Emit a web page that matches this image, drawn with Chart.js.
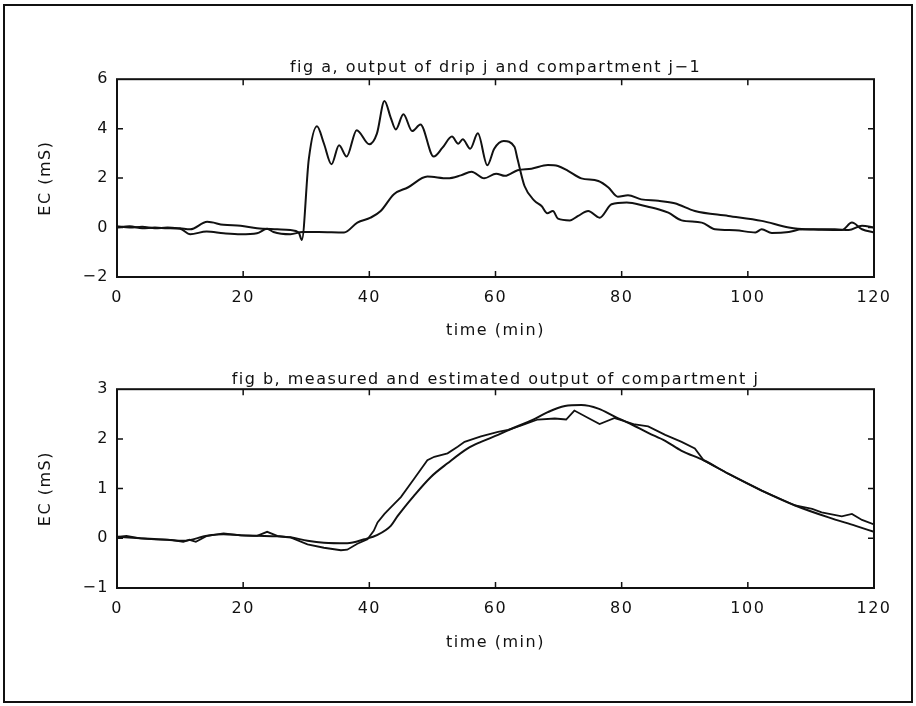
<!DOCTYPE html>
<html>
<head>
<meta charset="utf-8">
<script src="https://cdn.jsdelivr.net/npm/chart.js@4.4.1/dist/chart.umd.min.js"></script>
<style>
  html, body { margin: 0; padding: 0; background: #fff; }
  body { width: 916px; height: 706px; position: relative; overflow: hidden; }
  #frame { position: absolute; left: 3px; top: 4px; width: 906px; height: 695px; border: 2px solid #111; }
  #c1 { position: absolute; left: 0; top: 0; }
  #c2 { position: absolute; left: 0; top: 340px; }
</style>
</head>
<body>
<div id="frame"></div>
<canvas id="c1" width="916" height="345"></canvas>
<canvas id="c2" width="916" height="320"></canvas>
<script>
// ---- fig a: output of drip j and compartment j-1 ----
const dripTime = [0, 2, 4, 6, 8, 10, 11.6, 14.3, 16.9, 19.6, 22.2, 25.4, 27.5, 28.8, 29.3, 30.4, 31.7, 32.8, 34.0, 35.2, 36.4, 38.0, 40.0, 41.2, 42.4, 43.4, 44.2, 45.4, 46.8, 48.1, 50.2, 51.6, 53.1, 54.1, 54.8, 56.0, 57.2, 58.7, 59.8, 61.3, 63.0, 63.5, 64.6, 66.2, 67.3, 68.2, 69.1, 69.9, 71.8, 73.1, 74.7, 76.5, 78.4, 80.8, 83.7, 85.8, 87.4, 89.5, 92.7, 94.8, 98, 101.2, 102.2, 103.8, 106.5, 108.6, 111.7, 114.9, 116.5, 118.1, 120];
const dripEC = [0.05, 0.0, 0.03, -0.03, 0.0, -0.03, -0.07, 0.23, 0.11, 0.07, -0.03, -0.07, -0.1, -0.2, -0.5, 2.76, 4.1, 3.4, 2.56, 3.33, 2.87, 3.94, 3.37, 3.8, 5.12, 4.44, 3.97, 4.58, 3.9, 4.17, 2.87, 3.23, 3.68, 3.39, 3.57, 3.19, 3.81, 2.52, 3.19, 3.5, 3.27, 2.76, 1.68, 1.08, 0.87, 0.58, 0.67, 0.36, 0.29, 0.47, 0.67, 0.4, 0.94, 1.01, 0.87, 0.74, 0.6, 0.29, 0.2, -0.07, -0.11, -0.2, -0.07, -0.22, -0.18, -0.07, -0.09, -0.1, 0.2, -0.07, -0.2];

const prevTime = [0, 2, 4, 6, 8, 10, 11.6, 14.2, 16.9, 19.6, 22.2, 23.8, 24.8, 27.5, 29.4, 32, 36, 38.1, 40.2, 41.8, 43.9, 46.1, 49.2, 52.4, 54.5, 56.2, 58.2, 60.1, 61.5, 63.5, 65.7, 68.3, 69.9, 71.5, 73.6, 76.3, 77.9, 79.4, 81.0, 83.1, 85.8, 88.4, 91.6, 96.9, 102.2, 106.5, 109.1, 113.8, 116, 118.1, 120];
const prevEC = [0.0, 0.05, -0.03, 0.0, -0.03, -0.05, -0.27, -0.16, -0.23, -0.27, -0.23, -0.05, -0.18, -0.27, -0.18, -0.18, -0.2, 0.2, 0.4, 0.67, 1.35, 1.62, 2.06, 1.99, 2.11, 2.26, 1.99, 2.18, 2.09, 2.32, 2.38, 2.53, 2.49, 2.29, 1.99, 1.88, 1.62, 1.25, 1.31, 1.14, 1.08, 0.98, 0.67, 0.47, 0.27, 0.0, -0.07, -0.07, -0.1, 0.07, 0.0];

// ---- fig b: measured and estimated output of compartment j ----
const measTime = [0, 1.5, 3.7, 6, 8.5, 10.5, 11.5, 12.5, 14.3, 16.9, 19.6, 22.2, 23.8, 25.4, 27.5, 30.2, 32.8, 35.5, 36.5, 38.1, 39.7, 40.7, 41.3, 42.4, 43.4, 45.0, 47.1, 49.2, 50.3, 52.4, 54.0, 55.1, 57.7, 60.4, 62.0, 64.1, 66.7, 69.4, 71.2, 72.5, 74.7, 76.5, 78.9, 82.1, 84.2, 86.9, 89.5, 91.6, 93.0, 96.9, 102.2, 107.5, 110.2, 111.7, 114.9, 116.5, 118.1, 120];
const measEC = [0.03, 0.05, 0.0, -0.02, -0.03, -0.07, -0.03, -0.07, 0.05, 0.1, 0.06, 0.05, 0.13, 0.05, 0.02, -0.12, -0.19, -0.24, -0.23, -0.11, -0.02, 0.15, 0.32, 0.49, 0.62, 0.83, 1.2, 1.57, 1.64, 1.71, 1.84, 1.94, 2.05, 2.14, 2.18, 2.27, 2.39, 2.41, 2.39, 2.57, 2.42, 2.3, 2.42, 2.29, 2.25, 2.08, 1.94, 1.81, 1.57, 1.3, 0.96, 0.66, 0.59, 0.52, 0.44, 0.49, 0.37, 0.28];

const estTime = [0, 3.7, 8, 10.5, 14.3, 16.9, 19.6, 22.2, 25.4, 27.5, 30.2, 32.8, 36.5, 39.2, 41.3, 43.4, 44.5, 47.1, 49.8, 52.4, 55.6, 57.7, 60.4, 63.0, 65.7, 68.3, 71.0, 73.6, 76.3, 78.9, 81.6, 84.2, 86.9, 89.5, 93.0, 96.9, 102.2, 107.5, 112.8, 117.1, 120];
const estEC = [0.03, 0.0, -0.03, -0.05, 0.05, 0.08, 0.06, 0.05, 0.04, 0.02, -0.05, -0.09, -0.1, -0.02, 0.07, 0.25, 0.45, 0.86, 1.24, 1.51, 1.81, 1.94, 2.08, 2.23, 2.37, 2.54, 2.66, 2.68, 2.61, 2.45, 2.29, 2.12, 1.96, 1.76, 1.57, 1.3, 0.96, 0.66, 0.42, 0.25, 0.13];

// axis tick settings
const xTicks = [0, 20, 40, 60, 80, 100, 120];
const yTicksA = [-2, 0, 2, 4, 6];
const yTicksB = [-1, 0, 1, 2, 3];

const titleA = 'fig a, output of drip j and compartment j\u22121';
const titleB = 'fig b, measured and estimated output of compartment j';
const xTitle = 'time (min)';
const yTitle = 'EC (mS)';

const INK = '#111';
const FONT = "'DejaVu Sans', sans-serif";
const FS = 16;

function pts(xs, ys) { return xs.map((x, i) => ({ x: x, y: ys[i] })); }
function fmt(v) { return v < 0 ? '\u2212' + Math.abs(v) : String(v); }

const spacing = {
  id: 'spacing',
  beforeLayout(chart) { chart.ctx.letterSpacing = '1.5px'; },
  beforeDraw(chart) { chart.ctx.letterSpacing = '1.5px'; }
};

const frameTicks = {
  id: 'frameTicks',
  afterDraw(chart) {
    const { ctx, chartArea: a, scales } = chart;
    ctx.save();
    ctx.strokeStyle = INK;
    ctx.lineWidth = 2;
    ctx.strokeRect(a.left, a.top, a.right - a.left, a.bottom - a.top);
    ctx.lineWidth = 1.5;
    const L = 6;
    scales.x.ticks.forEach(t => {
      const px = scales.x.getPixelForValue(t.value);
      if (px <= a.left + 1 || px >= a.right - 1) return;
      ctx.beginPath();
      ctx.moveTo(px, a.bottom); ctx.lineTo(px, a.bottom - L);
      ctx.moveTo(px, a.top); ctx.lineTo(px, a.top + L);
      ctx.stroke();
    });
    scales.y.ticks.forEach(t => {
      const py = scales.y.getPixelForValue(t.value);
      if (py <= a.top + 1 || py >= a.bottom - 1) return;
      ctx.beginPath();
      ctx.moveTo(a.left, py); ctx.lineTo(a.left + L, py);
      ctx.moveTo(a.right, py); ctx.lineTo(a.right - L, py);
      ctx.stroke();
    });
    ctx.restore();
  }
};

function makeChart(canvas, datasets, title, titlePad, yTicks, xAxisH, xTitlePadBottom) {
  const yMin = yTicks[0], yMax = yTicks[yTicks.length - 1];
  return new Chart(canvas, {
    type: 'line',
    data: { datasets: datasets },
    options: {
      responsive: false,
      animation: false,
      devicePixelRatio: 1,
      layout: { padding: { left: 0, right: 42, top: 0, bottom: 0 } },
      plugins: {
        legend: { display: false },
        tooltip: { enabled: false },
        title: {
          display: true, text: title, fullSize: false, color: INK,
          font: { family: FONT, size: FS, weight: 'normal' },
          padding: titlePad
        }
      },
      elements: { point: { radius: 0 }, line: { borderWidth: 2, borderColor: INK } },
      scales: {
        x: {
          type: 'linear', min: xTicks[0], max: xTicks[xTicks.length - 1],
          afterBuildTicks: s => { s.ticks = xTicks.map(v => ({ value: v })); },
          afterFit: s => { s.height = xAxisH; },
          grid: { display: false, drawTicks: false },
          border: { display: false },
          ticks: { color: INK, padding: 11, maxRotation: 0, font: { family: FONT, size: FS } },
          title: { display: true, text: xTitle, color: INK, font: { family: FONT, size: FS }, padding: { top: 0, bottom: xTitlePadBottom } }
        },
        y: {
          min: yMin, max: yMax,
          afterBuildTicks: s => { s.ticks = yTicks.map(v => ({ value: v })); },
          afterFit: s => { s.width = 117; },
          grid: { display: false, drawTicks: false },
          border: { display: false },
          ticks: { color: INK, padding: 8, callback: v => fmt(v), font: { family: FONT, size: FS } },
          title: { display: true, text: yTitle, color: INK, font: { family: FONT, size: FS }, padding: { top: 36, bottom: 0 } }
        }
      }
    },
    plugins: [spacing, frameTicks]
  });
}

makeChart(document.getElementById('c1'), [
  { label: 'drip j', data: pts(dripTime, dripEC), borderColor: INK, borderWidth: 2, cubicInterpolationMode: 'monotone', fill: false },
  { label: 'compartment j-1', data: pts(prevTime, prevEC), borderColor: INK, borderWidth: 2, cubicInterpolationMode: 'monotone', fill: false }
], titleA, { top: 58, bottom: 2 }, yTicksA, 68, 5);

makeChart(document.getElementById('c2'), [
  { label: 'measured', data: pts(measTime, measEC), borderColor: INK, borderWidth: 1.8, tension: 0, fill: false },
  { label: 'estimated', data: pts(estTime, estEC), borderColor: INK, borderWidth: 2, cubicInterpolationMode: 'monotone', fill: false }
], titleB, { top: 30, bottom: 0 }, yTicksB, 72, 8);
</script>
</body>
</html>
